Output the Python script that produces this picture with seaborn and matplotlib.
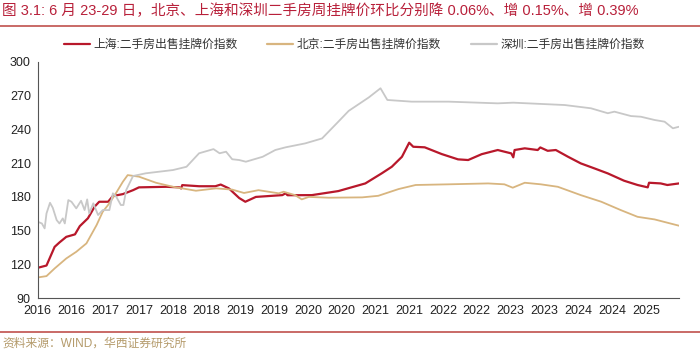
import pandas as pd
import matplotlib
matplotlib.use('Agg')
import matplotlib.pyplot as plt
import matplotlib.dates as mdates
from matplotlib.lines import Line2D
import seaborn as sns

# data
sh_dates = ['2016-01-01', '2016-02-17', '2016-04-01', '2016-04-27', '2016-06-03', '2016-07-20',
            '2016-08-15', '2016-09-28', '2016-11-03', '2016-11-28', '2017-01-15', '2017-02-10',
            '2017-04-05', '2017-05-30', '2017-07-01', '2017-11-25', '2018-02-05', '2018-02-14',
            '2018-02-20', '2018-05-22', '2018-08-18', '2018-09-16', '2018-10-30', '2018-12-25',
            '2019-01-27', '2019-03-25', '2019-08-15', '2019-09-02', '2019-09-12', '2020-01-22',
            '2020-06-13', '2020-11-06', '2021-02-03', '2021-03-29', '2021-05-23', '2021-07-01',
            '2021-07-23', '2021-09-23', '2021-12-24', '2022-03-22', '2022-05-16', '2022-07-28',
            '2022-10-23', '2023-01-04', '2023-01-15', '2023-01-22', '2023-03-18', '2023-05-27',
            '2023-06-10', '2023-07-20', '2023-09-02', '2023-11-07', '2024-01-15', '2024-03-28',
            '2024-06-09', '2024-09-05', '2024-11-17', '2025-01-11', '2025-01-18', '2025-03-22',
            '2025-04-27', '2025-06-29']
sh_values = [117, 119, 135.6, 139.5, 144.5, 146.7, 154, 161, 171.3, 175.7, 175.7, 180.8,
             182.5, 186, 188.5, 189, 188.5, 187.5, 190.5, 189.5, 189.5, 191, 187.6, 179,
             175.7, 180, 181.6, 183.2, 181.5, 181.6, 185.2, 192, 201, 206.8, 215.7, 228.2,
             224.6, 224.1, 218.1, 213.4, 212.8, 218, 221.7, 218.7, 215.2, 221.7, 223.2, 221.7,
             224, 221, 221.7, 215.7, 209.8, 205.4, 200.9, 194.4, 190.6, 188.5, 192.6, 192,
             190.6, 192]

bj_dates = ['2016-01-01', '2016-02-17', '2016-04-01', '2016-06-03', '2016-07-27', '2016-09-20',
            '2016-11-14', '2016-12-17', '2017-01-22', '2017-02-28', '2017-04-05', '2017-05-01',
            '2017-07-01', '2017-10-01', '2018-01-01', '2018-05-05', '2018-08-22', '2018-11-17',
            '2019-01-20', '2019-04-08', '2019-07-27', '2019-08-22', '2019-10-23', '2019-11-28',
            '2020-01-05', '2020-04-22', '2020-10-20', '2021-01-15', '2021-05-05', '2021-08-05',
            '2022-01-30', '2022-09-01', '2022-11-28', '2023-01-12', '2023-03-18', '2023-06-13',
            '2023-09-13', '2024-01-15', '2024-05-05', '2024-08-18', '2024-11-17', '2025-02-17',
            '2025-06-29']
bj_values = [108.4, 109.6, 116.4, 125.3, 131.2, 138.7, 155, 166.8, 174.3, 183.7, 193.5, 199.4,
             198, 192.6, 189, 185.5, 187.6, 186.5, 183.5, 186, 183.2, 184.6, 181.6, 177.8,
             180, 179.3, 179.6, 181, 187, 190.6, 191.2, 192, 191.2, 188.2, 192.6, 191.2,
             189, 181.6, 175.7, 168.3, 162.3, 160, 154.4]

sz_dates = ['2016-01-01', '2016-01-23', '2016-02-07', '2016-02-17', '2016-03-07', '2016-03-22',
            '2016-04-12', '2016-04-27', '2016-05-15', '2016-05-26', '2016-06-14', '2016-07-01',
            '2016-07-27', '2016-08-22', '2016-09-10', '2016-09-24', '2016-10-05', '2016-10-27',
            '2016-11-22', '2016-12-17', '2017-01-22', '2017-02-10', '2017-02-28', '2017-03-25',
            '2017-04-08', '2017-04-23', '2017-05-30', '2017-08-07', '2018-01-01', '2018-03-15',
            '2018-05-22', '2018-08-08', '2018-09-10', '2018-10-15', '2018-11-17', '2018-12-25',
            '2019-01-30', '2019-05-01', '2019-07-08', '2019-09-02', '2019-12-17', '2020-03-17',
            '2020-06-13', '2020-08-08', '2020-11-25', '2021-01-27', '2021-03-05', '2021-07-15',
            '2022-01-30', '2022-10-23', '2023-01-15', '2023-10-20', '2024-03-10', '2024-06-09',
            '2024-07-15', '2024-10-12', '2024-12-05', '2025-02-17', '2025-04-12', '2025-05-27',
            '2025-06-29']
sz_values = [157.9, 156.4, 152, 165.3, 174.8, 170.3, 159.4, 156.4, 160.9, 156.4, 177.2, 175.7,
             169.8, 176.6, 168.3, 177.8, 165.3, 174.3, 163.9, 168.3, 168.3, 183.2, 180.2, 172.8,
             172.8, 186.1, 198.6, 201, 203.9, 206.8, 218.8, 222.5, 218.8, 220.2, 213.5, 212.8,
             211.3, 215.7, 221.7, 224.1, 227.6, 232, 246.9, 256.5, 268.5, 276.6, 266.2, 264.7,
             264.7, 263.2, 263.8, 261.7, 258.8, 254.4, 255.8, 251.9, 251.3, 248.4, 246.9, 241,
             242.4]

names = ['上海:二手房出售挂牌价指数', '北京:二手房出售挂牌价指数', '深圳:二手房出售挂牌价指数']
colors = ['#B8182B', '#D8B57F', '#C8C8C8']

df = pd.concat([
    pd.DataFrame({'date': pd.to_datetime(sh_dates), 'value': sh_values, 'series': names[0]}),
    pd.DataFrame({'date': pd.to_datetime(bj_dates), 'value': bj_values, 'series': names[1]}),
    pd.DataFrame({'date': pd.to_datetime(sz_dates), 'value': sz_values, 'series': names[2]}),
])

sns.set_style('white')
plt.rcParams['font.family'] = ['Liberation Sans', 'Noto Sans CJK SC', 'DejaVu Sans']

fig = plt.figure(figsize=(7, 3.52), dpi=100)
ax = fig.add_axes([0.054, 0.153, 0.916, 0.671])

sns.lineplot(data=df, x='date', y='value', hue='series', hue_order=names,
             palette=colors, ax=ax, linewidth=1.3, legend=False)
ax.lines[0].set_linewidth(1.6)

ax.set_xlim(pd.Timestamp('2016-01-01'), pd.Timestamp('2025-06-29'))
ax.set_ylim(90, 300)
ax.set_yticks(range(90, 301, 30))
ax.xaxis.set_major_locator(mdates.MonthLocator(bymonth=[1, 7]))
ax.xaxis.set_major_formatter(mdates.DateFormatter('%Y'))
ax.set_xlabel('')
ax.set_ylabel('')
ax.tick_params(axis='both', direction='in', length=4, width=0.8, color='#555555',
               labelsize=9, colors='#222222', pad=5)
for s in ['top', 'right']:
    ax.spines[s].set_visible(False)
for s in ['left', 'bottom']:
    ax.spines[s].set_color('#555555')
    ax.spines[s].set_linewidth(0.8)

handles = [Line2D([], [], color=c, lw=1.6) for c in colors]
fig.legend(handles, names, loc='center', bbox_to_anchor=(0.506, 0.873), ncol=3,
           frameon=False, fontsize=8.5, handlelength=2.2, columnspacing=2.5,
           handletextpad=0.3, labelcolor='#333333')

fig.text(0.003, 0.968, '图 3.1: 6 月 23-29 日，北京、上海和深圳二手房周挂牌价环比分别降 0.06%、增 0.15%、增 0.39%',
         color='#B8203A', fontsize=10.5, va='center', ha='left')
fig.add_artist(Line2D([0, 1], [0.925, 0.925], color='#C0504D', lw=1.2))
fig.add_artist(Line2D([0, 1], [0.057, 0.057], color='#C0504D', lw=1.2))
fig.text(0.003, 0.025, '资料来源：WIND，华西证券研究所', color='#B49A6A', fontsize=8.5,
         va='center', ha='left')

fig.savefig('out.png', dpi=100)
